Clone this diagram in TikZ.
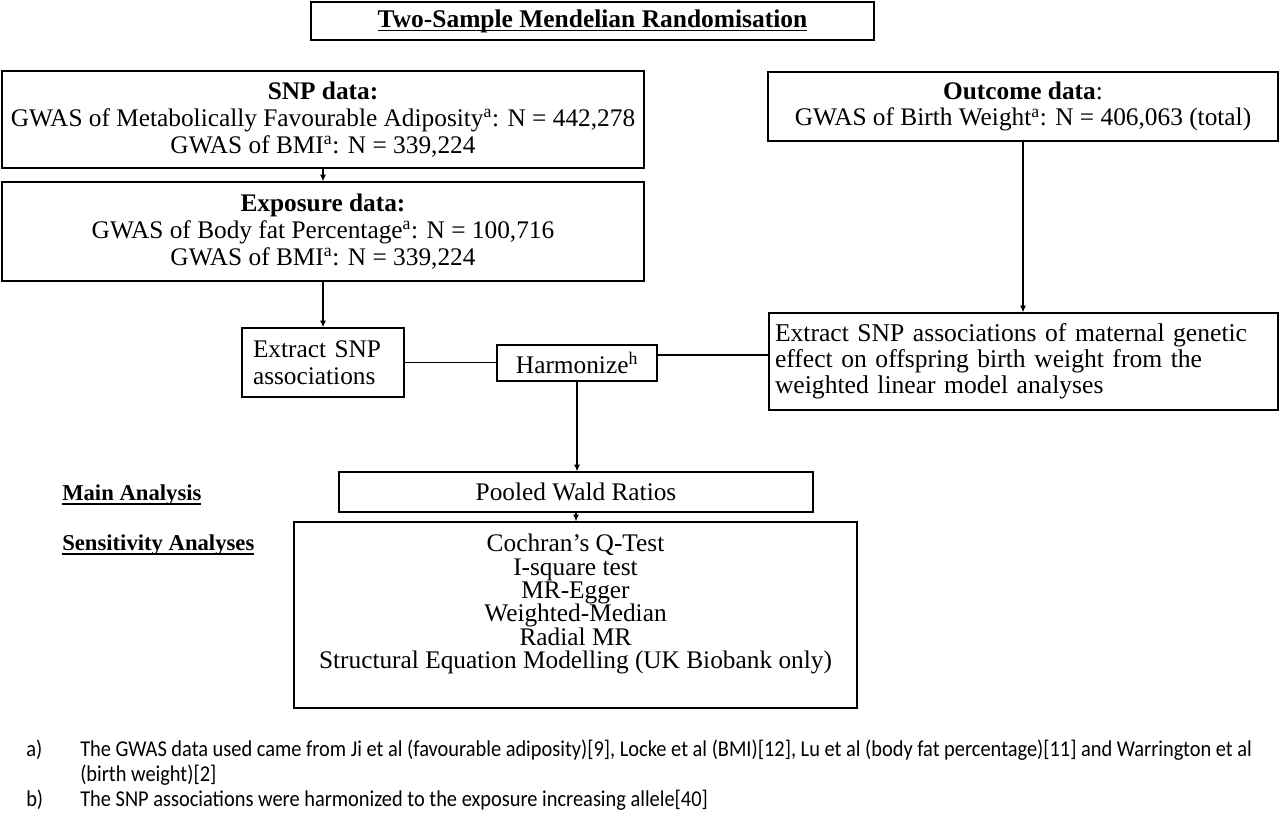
\documentclass[tikz,border=0pt]{standalone}
\usepackage{fontspec}
\setmainfont{Liberation Serif}
\newfontfamily\calib[FakeStretch=0.9]{Carlito}
\usetikzlibrary{arrows.meta}
\newcommand\mybody{\fontsize{19}{20}\selectfont}
\newcommand\myfoot{\calib\fontsize{17}{18}\selectfont}
\newsavebox\myulbox
\newcommand\myul[1]{\sbox\myulbox{#1}\rlap{\rule[-3.2pt]{\wd\myulbox}{1.1pt}}\usebox\myulbox}
\begin{document}
\begin{tikzpicture}[x=0.75pt,y=-0.75pt,
  bx/.style={draw, line width=1pt, inner sep=0pt, align=center, font=\mybody},
  arr/.style={line width=0.9pt, -{Latex[length=5pt,width=4.5pt]}},
  ln/.style={line width=0.9pt},
  lbl/.style={anchor=west, inner sep=0pt, font=\fontsize{17}{18}\selectfont\bfseries},
  fn/.style={anchor=west, inner sep=0pt, font=\myfoot}]
\useasboundingbox (0,0) rectangle (1280,815);

\node[bx, line width=1.5pt, minimum width={563*0.75pt}, minimum height={38*0.75pt}] (title) at (592.5,21)
  {\bfseries\fontsize{19.1}{20}\selectfont\myul{Two-Sample Mendelian Randomisation}};

\node[bx, minimum width={642*0.75pt}, minimum height={97*0.75pt}] (snp) at (323,119.5)
  {\textbf{SNP data:}\\GWAS of Metabolically Favourable Adiposity\textsuperscript{a}: N = 442,278\\GWAS of BMI\textsuperscript{a}: N = 339,224};

\node[bx, minimum width={642*0.75pt}, minimum height={99*0.75pt}] (exp) at (323,231.5)
  {\textbf{Exposure data:}\\GWAS of Body fat Percentage\textsuperscript{a}: N = 100,716\\GWAS of BMI\textsuperscript{a}: N = 339,224};

\node[bx, minimum width={510*0.75pt}, minimum height={69*0.75pt}] (outc) at (1023,106.5)
  {\textbf{Outcome data}:\\GWAS of Birth Weight\textsuperscript{a}: N = 406,063 (total)};

\node[bx, align=left, inner xsep={6*0.75pt}, text width={497*0.75pt}, minimum height={97*0.75pt}, font=\fontsize{19.2}{19.5}\selectfont] (rext) at (1023.5,361.5)
  {Extract SNP associations of maternal genetic\\effect on offspring birth weight from the\\weighted linear model analyses};

\node[bx, align=left, inner xsep={11*0.75pt}, text width={140*0.75pt}, minimum height={69*0.75pt}] (lext) at (323,362.5)
  {Extract SNP\\associations};

\node[bx, minimum width={160*0.75pt}, minimum height={36*0.75pt}] (harm) at (577,363)
  {Harmonize\textsuperscript{h}};

\node[bx, minimum width={474*0.75pt}, minimum height={40*0.75pt}] (pool) at (576,492)
  {Pooled Wald Ratios};

\node[bx, minimum width={563*0.75pt}, minimum height={186*0.75pt}] (sens) at (575.5,615) {};
\node[align=center, inner sep=0pt, font=\fontsize{19}{17.5}\selectfont] (senstext) at (575.5,604)
  {Cochran's Q-Test\\I-square test\\MR-Egger\\Weighted-Median\\Radial MR\\Structural Equation Modelling (UK Biobank only)};

\node[lbl] (ma) at (62,495) {\myul{Main Analysis}};
\node[lbl] (sa) at (62,545) {\myul{Sensitivity Analyses}};

\draw[arr] (snp.south) -- (exp.north);
\draw[arr] (exp.south) -- (exp.south |- lext.north);
\draw[arr] (outc.south) -- (outc.south |- rext.north);
\draw[ln] (lext.east) -- (lext.east -| harm.west);
\draw[ln] ([yshift=6pt]harm.east) -- ([yshift=6pt]harm.east -| rext.west);
\draw[arr] (harm.south) -- (harm.south |- pool.north);
\draw[arr] (pool.south) -- (pool.south |- sens.north);

\node[fn] (la) at (26,750) {a)};
\node[fn] (ta1) at (80,750) {The GWAS data used came from Ji et al (favourable adiposity)[9], Locke et al (BMI)[12], Lu et al (body fat percentage)[11] and Warrington et al};
\node[fn] (ta2) at (80,775) {(birth weight)[2]};
\node[fn] (lb) at (26,800) {b)};
\node[fn] (tb) at (80,800) {The SNP associations were harmonized to the exposure increasing allele[40]};
\end{tikzpicture}
\end{document}
